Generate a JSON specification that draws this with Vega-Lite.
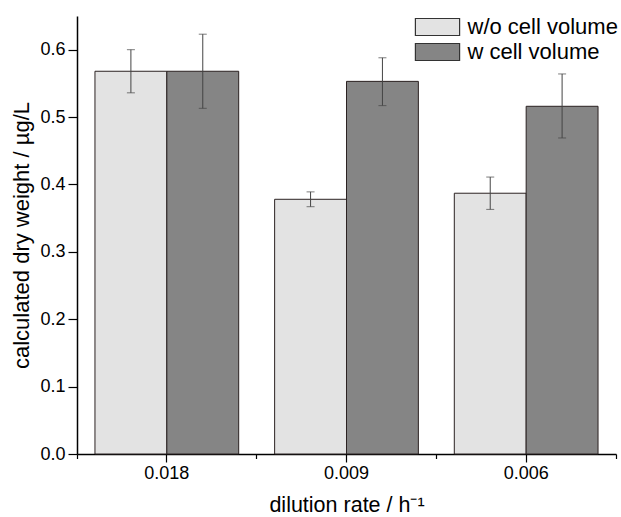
{
  "$schema": "https://vega.github.io/schema/vega-lite/v6.json",
  "width": 539,
  "height": 438,
  "autosize": "none",
  "padding": {"left": 77, "top": 16, "right": 5, "bottom": 63},
  "background": "white",
  "config": {
    "view": {"stroke": null},
    "font": "Liberation Sans",
    "axis": {"grid": false, "domainColor": "#000", "tickColor": "#000", "labelColor": "#000", "titleColor": "#000", "labelFont": "Liberation Sans", "titleFont": "Liberation Sans", "titleFontWeight": "normal", "domainWidth": 1.5, "tickWidth": 1.2},
    "legend": {"labelFont": "Liberation Sans"}
  },
  "data": {
    "values": [
      {"rate": "0.018", "series": "w/o cell volume", "value": 0.568, "lo": 0.536, "hi": 0.600},
      {"rate": "0.018", "series": "w cell volume", "value": 0.568, "lo": 0.513, "hi": 0.623},
      {"rate": "0.009", "series": "w/o cell volume", "value": 0.378, "lo": 0.367, "hi": 0.389},
      {"rate": "0.009", "series": "w cell volume", "value": 0.553, "lo": 0.517, "hi": 0.588},
      {"rate": "0.006", "series": "w/o cell volume", "value": 0.387, "lo": 0.363, "hi": 0.411},
      {"rate": "0.006", "series": "w cell volume", "value": 0.516, "lo": 0.469, "hi": 0.564}
    ]
  },
  "resolve": {"axis": {"x": "independent"}},
  "layer": [
    {
      "mark": {"type": "bar", "stroke": "#2b2222", "strokeWidth": 1},
      "encoding": {
        "x": {
          "field": "rate", "type": "nominal", "sort": ["0.018", "0.009", "0.006"],
          "scale": {"paddingInner": 0.2, "paddingOuter": 0.1},
          "axis": {"orient": "bottom", "title": "dilution rate / h⁻¹", "labelAngle": 0, "labelFontSize": 18, "tickSize": 8, "labelPadding": 2, "titleFontSize": 21.5, "titlePadding": 12}
        },
        "xOffset": {"field": "series", "type": "nominal", "sort": ["w/o cell volume", "w cell volume"], "scale": {"paddingInner": 0, "paddingOuter": 0}},
        "y": {
          "field": "value", "type": "quantitative",
          "scale": {"domain": [0, 0.65], "nice": false},
          "axis": {
            "title": "calculated dry weight / µg/L",
            "values": [0, 0.05, 0.1, 0.15, 0.2, 0.25, 0.3, 0.35, 0.4, 0.45, 0.5, 0.55, 0.6, 0.65],
            "labelExpr": "round(datum.value*100) % 10 == 0 ? format(datum.value, '.1f') : ''",
            "tickSize": {"condition": {"test": "round(datum.value*100) % 10 != 0", "value": 5}, "value": 9},
            "labelFontSize": 18, "labelPadding": 3, "titleFontSize": 22, "titlePadding": 6
          }
        },
        "color": {
          "field": "series", "type": "nominal",
          "scale": {"domain": ["w/o cell volume", "w cell volume"], "range": ["#e3e3e3", "#858585"]},
          "legend": {
            "title": null, "orient": "none", "legendX": 349.5, "legendY": 0,
            "symbolType": "M-2.6,-1H2.6V1H-2.6Z", "symbolSize": 289,
            "symbolStrokeColor": "#333", "symbolStrokeWidth": 1.2, "symbolOpacity": 1,
            "labelFontSize": 22, "labelOffset": 19, "rowPadding": 3, "padding": 0, "labelColor": "#000", "labelLimit": 300
          }
        }
      }
    },
    {
      "mark": {"type": "rule", "color": "#444", "strokeWidth": 1},
      "encoding": {
        "x": {
          "field": "rate", "type": "nominal", "sort": ["0.018", "0.009", "0.006"],
          "axis": {"orient": "bottom", "bandPosition": 1.125, "labels": false, "domain": false, "title": null, "tickSize": 4.5}
        },
        "xOffset": {"field": "series", "type": "nominal", "sort": ["w/o cell volume", "w cell volume"]},
        "y": {"field": "lo", "type": "quantitative"},
        "y2": {"field": "hi"}
      }
    },
    {
      "mark": {"type": "tick", "color": "#444", "size": 8, "thickness": 1},
      "encoding": {
        "x": {
          "field": "rate", "type": "nominal", "sort": ["0.018", "0.009", "0.006"],
          "axis": {"orient": "bottom", "values": ["0.018"], "bandPosition": -0.125, "labels": false, "domain": false, "title": null, "tickSize": 4.5}
        },
        "xOffset": {"field": "series", "type": "nominal", "sort": ["w/o cell volume", "w cell volume"]},
        "y": {"field": "lo", "type": "quantitative"}
      }
    },
    {
      "mark": {"type": "tick", "color": "#444", "size": 8, "thickness": 1},
      "encoding": {
        "x": {"field": "rate", "type": "nominal", "sort": ["0.018", "0.009", "0.006"], "axis": null},
        "xOffset": {"field": "series", "type": "nominal", "sort": ["w/o cell volume", "w cell volume"]},
        "y": {"field": "hi", "type": "quantitative"}
      }
    }
  ]
}
